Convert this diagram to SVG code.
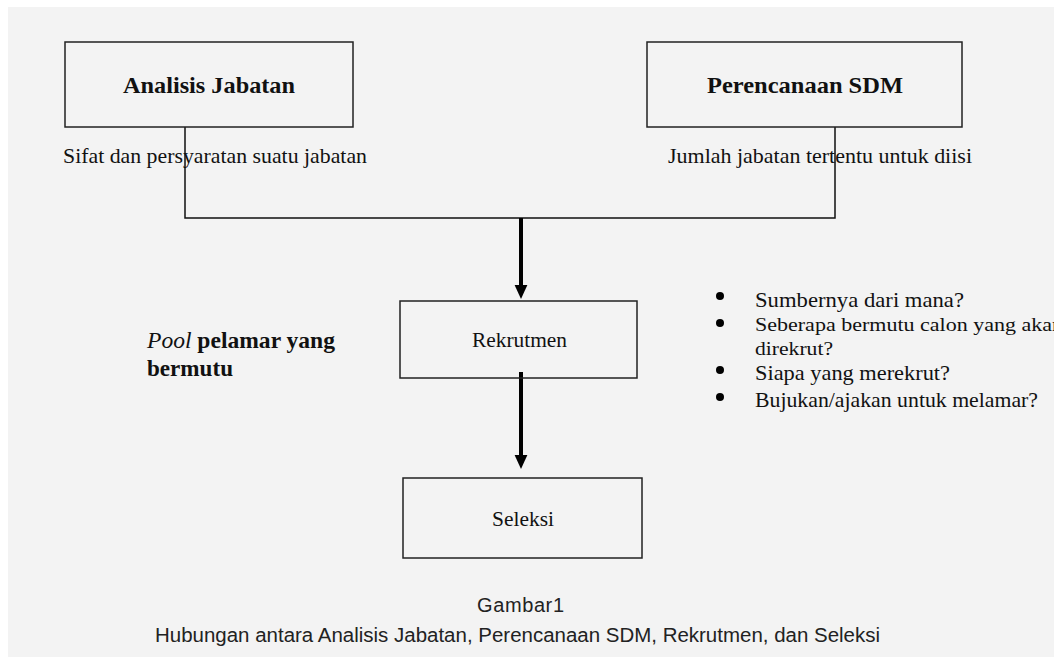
<svg xmlns="http://www.w3.org/2000/svg" width="1054" height="657" viewBox="0 0 1054 657">
<style>
.box{fill:none;stroke:#222;stroke-width:1.5}
.ln{fill:none;stroke:#111;stroke-width:1.5}
.arr{fill:none;stroke:#000;stroke-width:4}
.ser{font-family:"Liberation Serif",serif;fill:#111}
.b{font-weight:bold;font-size:23px}
.s{font-size:21px}
.t{font-size:19px}
.cap{font-family:"Liberation Sans",Arial,sans-serif;font-size:20px;fill:#222}
</style>
<defs>
<marker id="ah" markerWidth="4" markerHeight="4" refX="2" refY="2" orient="auto" markerUnits="strokeWidth">
<path d="M0,0.4 L3.5,2 L0,3.6 Z" fill="#000"/>
</marker>
</defs>
<rect x="0" y="0" width="1054" height="657" fill="#fff"/>
<rect x="8" y="7" width="1046" height="650" fill="#f3f3f3"/>
<g id="connectors">
<path class="ln" d="M185,127 V218 H835 V127"/>
<path class="arr" d="M521,218 V293" marker-end="url(#ah)"/>
<path class="arr" d="M521,372 V463" marker-end="url(#ah)"/>
</g>
<g id="analisis">
<rect class="box" x="65" y="42" width="288" height="85"/>
<text class="ser b" x="123" y="93" textLength="172" lengthAdjust="spacingAndGlyphs">Analisis Jabatan</text>
<text class="ser s" x="63" y="163" textLength="304" lengthAdjust="spacingAndGlyphs">Sifat dan persyaratan suatu jabatan</text>
</g>
<g id="perencanaan">
<rect class="box" x="647" y="42" width="315" height="85"/>
<text class="ser b" x="707" y="93" textLength="196" lengthAdjust="spacingAndGlyphs">Perencanaan SDM</text>
<text class="ser s" x="668" y="163" textLength="304" lengthAdjust="spacingAndGlyphs">Jumlah jabatan tertentu untuk diisi</text>
</g>
<g id="rekrutmen">
<rect class="box" x="400" y="301" width="237" height="77"/>
<text class="ser s" x="472" y="347" textLength="95" lengthAdjust="spacingAndGlyphs">Rekrutmen</text>
</g>
<g id="pool">
<text class="ser b" x="147" y="348" textLength="188" lengthAdjust="spacingAndGlyphs"><tspan font-style="italic" font-weight="normal">Pool</tspan> pelamar yang</text>
<text class="ser b" x="147" y="376" textLength="86" lengthAdjust="spacingAndGlyphs">bermutu</text>
</g>
<g id="questions" class="ser s">
<circle cx="720" cy="296" r="4" fill="#000"/>
<text x="755" y="307" textLength="209" lengthAdjust="spacingAndGlyphs">Sumbernya dari mana?</text>
<circle cx="720" cy="323" r="4" fill="#000"/>
<text class="t" x="755" y="331" textLength="308" lengthAdjust="spacingAndGlyphs">Seberapa bermutu calon yang akan</text>
<text class="t" x="755" y="355" textLength="78" lengthAdjust="spacingAndGlyphs">direkrut?</text>
<circle cx="720" cy="370" r="4" fill="#000"/>
<text x="755" y="380" textLength="195" lengthAdjust="spacingAndGlyphs">Siapa yang merekrut?</text>
<circle cx="720" cy="397" r="4" fill="#000"/>
<text x="755" y="407" textLength="283" lengthAdjust="spacingAndGlyphs">Bujukan/ajakan untuk melamar?</text>
</g>
<g id="seleksi">
<rect class="box" x="403" y="478" width="239" height="80"/>
<text class="ser s" x="492" y="526" textLength="62" lengthAdjust="spacingAndGlyphs">Seleksi</text>
</g>
<g id="caption">
<text class="cap" x="477" y="612" textLength="87" lengthAdjust="spacing">Gambar1</text>
<text class="cap" x="155" y="642" textLength="725" lengthAdjust="spacingAndGlyphs">Hubungan antara Analisis Jabatan, Perencanaan SDM, Rekrutmen, dan Seleksi</text>
</g>
</svg>
